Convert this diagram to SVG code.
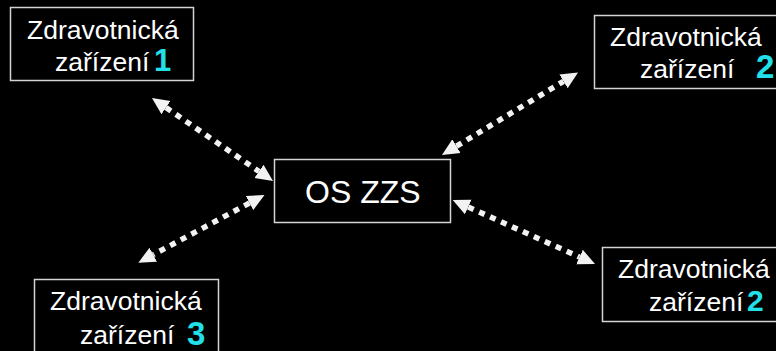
<svg xmlns="http://www.w3.org/2000/svg" width="776" height="351" viewBox="0 0 776 351">
  <style>
    .box { fill: #000000; stroke: #d4d4d4; stroke-width: 1.5; }
    .t { font-family: "Liberation Sans", Arial, sans-serif; font-size: 26.5px; fill: #ffffff; }
    .big { font-family: "Liberation Sans", Arial, sans-serif; font-size: 32px; fill: #ffffff; }
    .num { font-family: "Liberation Sans", Arial, sans-serif; font-weight: bold; fill: #22e0ea; }
    .conn { fill: none; stroke: #f2f2f2; stroke-width: 5.5; stroke-dasharray: 6 6; marker-start: url(#head); marker-end: url(#head); }
  </style>
  <defs>
    <marker id="head" markerUnits="userSpaceOnUse" markerWidth="20" markerHeight="20" viewBox="0 -10 20 20" refX="0" refY="0" orient="auto-start-reverse">
      <path d="M0,-8 L17,0 L0,8 Z" fill="#f2f2f2"/>
    </marker>
  </defs>
  <rect x="0" y="0" width="776" height="351" fill="#000000"/>

  <g id="connectors">
    <line class="conn" x1="166" y1="107.6" x2="259" y2="171.4"/>
    <line class="conn" x1="456.5" y1="146.2" x2="563.5" y2="81.3"/>
    <line class="conn" x1="249.5" y1="203" x2="153.3" y2="254.7"/>
    <line class="conn" x1="468.2" y1="207" x2="579.5" y2="257"/>
  </g>

  <g id="zz1">
    <rect class="box" x="10.5" y="7.5" width="183" height="73"/>
    <text class="t" x="27" y="39">Zdravotnická</text>
    <text class="t" x="55" y="71">zařízení</text>
    <text class="num" x="154" y="71" font-size="31">1</text>
  </g>

  <g id="zz2top">
    <rect class="box" x="594.5" y="15.5" width="184" height="73"/>
    <text class="t" x="610" y="46">Zdravotnická</text>
    <text class="t" x="640" y="78">zařízení</text>
    <text class="num" x="756" y="78" font-size="33">2</text>
  </g>

  <g id="os-zzs">
    <rect class="box" x="274.5" y="159.5" width="176" height="63"/>
    <text class="big" x="305" y="203">OS ZZS</text>
  </g>

  <g id="zz3">
    <rect class="box" x="34.5" y="279.5" width="184" height="80"/>
    <text class="t" x="50" y="310">Zdravotnická</text>
    <text class="t" x="80" y="344">zařízení</text>
    <text class="num" x="187" y="345" font-size="33">3</text>
  </g>

  <g id="zz2bottom">
    <rect class="box" x="602.5" y="247.5" width="184" height="74"/>
    <text class="t" x="618" y="278">Zdravotnická</text>
    <text class="t" x="649" y="311">zařízení</text>
    <text class="num" x="747" y="311" font-size="30">2</text>
  </g>
</svg>
